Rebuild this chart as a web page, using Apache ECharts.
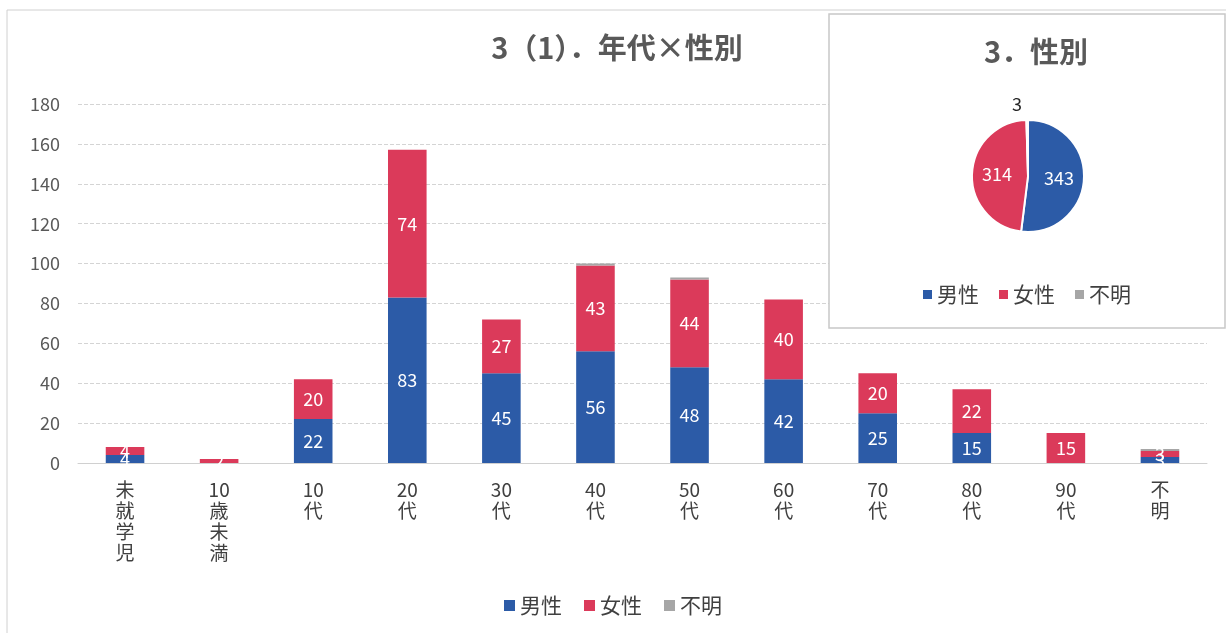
<!DOCTYPE html>
<html>
<head>
<meta charset="utf-8">
<script src="https://cdn.jsdelivr.net/npm/echarts@6/dist/echarts.min.js"></script>
<style>
html, body { margin: 0; padding: 0; background: #fff; }
#main { width: 1226px; height: 633px; }
</style>
</head>
<body>
<div id="main"></div>
<script>
// 年代カテゴリ
const categories = ['未就学児', '10歳未満', '10代', '20代', '30代', '40代', '50代', '60代', '70代', '80代', '90代', '不明']
const axisLabels = ['未\n就\n学\n児', '10\n歳\n未\n満', '10\n代', '20\n代', '30\n代', '40\n代', '50\n代', '60\n代', '70\n代', '80\n代', '90\n代', '不\n明']
const male = [4, 0, 22, 83, 45, 56, 48, 42, 25, 15, 0, 3]
const female = [4, 2, 20, 74, 27, 43, 44, 40, 20, 22, 15, 3]
const unknown = [0, 0, 0, 0, 0, 1, 1, 0, 0, 0, 0, 1]
const yTicks = [0, 180, 20]
// 性別合計
const pieNames = ['男性', '女性', '不明']
const pieValues = [343, 314, 3]

const BLUE = '#2C5BA7'
const RED = '#DB3A5A'
const GRAY = '#A6A6A6'
const FONT = '"Noto Sans CJK JP", "Noto Sans", sans-serif'

const chart = echarts.init(document.getElementById('main'))

const barLabel = {
    show: true,
    color: '#fff',
    fontSize: 18,
    fontFamily: FONT,
    formatter: p => (p.value > 0 ? p.value : '')
}

chart.setOption({
    backgroundColor: '#fff',
    textStyle: { fontFamily: FONT },
    title: [{
        text: '3（1）．年代×性別',
        left: 612,
        top: 28,
        textAlign: 'center',
        textStyle: { fontSize: 29, fontWeight: 'bold', color: '#595959', fontFamily: FONT }
    }, {
        text: '3．性別',
        left: 1031,
        top: 32,
        textAlign: 'center',
        z: 30,
        textStyle: { fontSize: 29, fontWeight: 'bold', color: '#595959', fontFamily: FONT }
    }],
    graphic: [{
        type: 'rect',
        z: 0,
        silent: true,
        shape: { x: 7, y: 10, width: 1230, height: 640 },
        style: { fill: 'none', stroke: '#d0d0d0', lineWidth: 1 }
    }, {
        type: 'rect',
        z: 10,
        silent: true,
        shape: { x: 829, y: 14, width: 396, height: 314 },
        style: { fill: '#fff', stroke: '#c8c8c8', lineWidth: 1.5 }
    }],
    legend: [{
        data: pieNames,
        bottom: 12,
        left: 'center',
        itemWidth: 11,
        itemHeight: 11,
        itemGap: 22,
        icon: 'rect',
        textStyle: { fontSize: 21, color: '#404040', fontFamily: FONT }
    }, {
        data: pieNames,
        top: 279,
        left: 918,
        itemWidth: 9,
        itemHeight: 9,
        itemGap: 20,
        icon: 'rect',
        z: 30,
        textStyle: { fontSize: 21, color: '#404040', fontFamily: FONT }
    }],
    grid: {
        left: 78,
        right: 19,
        top: 104,
        bottom: 170
    },
    xAxis: {
        type: 'category',
        data: categories,
        axisLine: { lineStyle: { color: '#d0d0d0' } },
        axisTick: { show: false },
        axisLabel: {
            formatter: (v, i) => axisLabels[i],
            color: '#404040',
            fontSize: 19,
            lineHeight: 21,
            margin: 16,
            interval: 0
        }
    },
    yAxis: {
        type: 'value',
        min: yTicks[0],
        max: yTicks[1],
        interval: yTicks[2],
        axisLine: { show: false },
        axisTick: { show: false },
        axisLabel: { color: '#595959', fontSize: 18, margin: 18 },
        splitLine: { lineStyle: { color: '#d4d4d4', type: [4, 2] } }
    },
    series: [{
        name: '男性',
        type: 'bar',
        stack: 'g',
        barWidth: '41%',
        data: male,
        itemStyle: { color: BLUE },
        label: barLabel
    }, {
        name: '女性',
        type: 'bar',
        stack: 'g',
        data: female,
        itemStyle: { color: RED },
        label: barLabel
    }, {
        name: '不明',
        type: 'bar',
        stack: 'g',
        data: unknown,
        itemStyle: { color: GRAY }
    }, {
        name: '性別',
        type: 'pie',
        z: 20,
        center: [1028, 176],
        radius: 56,
        startAngle: 90,
        clockwise: true,
        itemStyle: { borderColor: '#fff', borderWidth: 2 },
        label: {
            position: 'inside',
            color: '#fff',
            fontSize: 18,
            fontFamily: FONT,
            formatter: '{c}'
        },
        labelLine: { show: false, length: 0, length2: 0 },
        data: pieNames.map((n, i) => ({
            name: n,
            value: pieValues[i],
            itemStyle: { color: [BLUE, RED, GRAY][i] },
            label: i === 2 ? { position: 'outside', color: '#262626' } : undefined,
            labelLine: i === 2 ? { show: false, length: 16, length2: 0 } : undefined
        }))
    }]
})
</script>
</body>
</html>
